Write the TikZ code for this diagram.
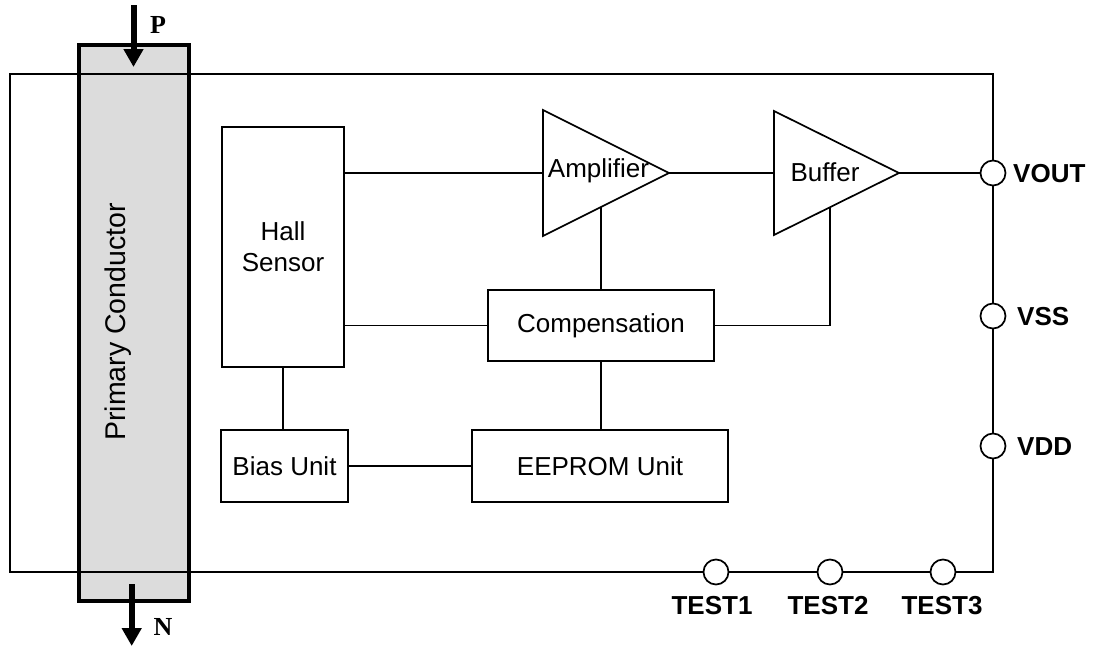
\documentclass[tikz,border=0pt]{standalone}
\usepackage{fontspec}
\setmainfont{Liberation Sans}
\newfontfamily\serifb{Liberation Serif}
\usetikzlibrary{arrows.meta}
\definecolor{condgray}{HTML}{DCDCDC}
\begin{document}
\begin{tikzpicture}[x=1pt,y=-1pt,
  wire/.style={line width=1.7pt},
  blockbox/.style={draw,line width=1.7pt,rectangle,inner sep=0pt,align=center,font=\fontsize{26}{31}\selectfont},
  pin/.style={draw,line width=1.7pt,circle,fill=white,minimum size=25pt,inner sep=0pt},
  pinlabel/.style={font=\fontsize{26}{31}\selectfont\bfseries,inner sep=0pt},
  bigarrow/.style={line width=6pt,-{Triangle[width=19pt,length=18pt]}},
  lbl/.style={font=\fontsize{26}{31}\selectfont,inner sep=0pt}]
\useasboundingbox (0,0) rectangle (1093,648);

% primary conductor
\fill[condgray] (79,45) rectangle (189,601);
\node[rotate=90,anchor=base,lbl,font=\fontsize{28.5}{33}\selectfont] (pclabel) at (125,322) {Primary Conductor};

% chip outline
\coordinate (chipTL) at (10,74);
\coordinate (chipBR) at (993,572);
\draw[wire] (chipTL) rectangle (chipBR);

\draw[line width=3.8pt] (79,45) rectangle (189,601);

% current arrows
\coordinate (pstart) at (133.5,5);
\coordinate (pend) at (133.5,67);
\draw[bigarrow] (pstart) -- (pend);
\node[font=\fontsize{26}{31}\selectfont\serifb\bfseries,inner sep=0pt] (plabel) at (158,25) {P};
\coordinate (nstart) at (131.7,584);
\coordinate (nend) at (131.7,646);
\draw[bigarrow] (nstart) -- (nend);
\node[font=\fontsize{26}{31}\selectfont\serifb\bfseries,inner sep=0pt] (nlabel) at (163,627) {N};

% blocks
\node[blockbox,minimum width=122pt,minimum height=240pt] (hall) at (283,247) {Hall\\Sensor};
\node[blockbox,minimum width=226pt,minimum height=71pt] (comp) at (601,325.5) {Compensation};
\node[blockbox,minimum width=127pt,minimum height=72pt] (bias) at (284.5,466) {Bias Unit};
\node[blockbox,minimum width=256pt,minimum height=72pt] (eeprom) at (600,466) {EEPROM Unit};

% amplifier triangle
\coordinate (ampTop) at (543,110);
\coordinate (ampL) at (543,173);
\coordinate (ampBot) at (543,236);
\coordinate (ampT) at (669,173);
\coordinate (ampB) at (601,207);
\draw[wire,line join=miter] (ampTop) -- (ampT) -- (ampBot) -- cycle;
\node[lbl] (amptext) at (598.5,171) {Amplifier};

% buffer triangle
\coordinate (bufTop) at (774,111);
\coordinate (bufL) at (774,173);
\coordinate (bufBot) at (774,235);
\coordinate (bufT) at (899,173);
\coordinate (bufB) at (830,208);
\draw[wire,line join=miter] (bufTop) -- (bufT) -- (bufBot) -- cycle;
\node[lbl] (buftext) at (825,172) {Buffer};

% connectors
\draw[wire] (hall.east |- ampL) -- (ampL);
\draw[wire] (ampT) -- (bufL);
\draw[wire] (ampB) -- (ampB |- comp.north);
\draw[wire] (bufB) |- (comp.east);
\draw[wire] (hall.east |- comp.west) -- (comp.west);
\draw[wire] (hall.south) -- (hall.south |- bias.north);
\draw[wire] (comp.south) -- (comp.south |- eeprom.north);
\draw[wire] (bias.east) -- (eeprom.west);

% pins
\node[pin] (vout) at (993,173) {};
\node[pin] (vss) at (993,316) {};
\node[pin] (vdd) at (993,446) {};
\node[pin] (test1) at (716,572) {};
\node[pin] (test2) at (830,572) {};
\node[pin] (test3) at (943,572) {};
\draw[wire] (bufT) -- (vout.west);

\node[pinlabel,anchor=west] (voutl) at (1013,174) {VOUT};
\node[pinlabel,anchor=west] (vssl) at (1017,317) {VSS};
\node[pinlabel,anchor=west] (vddl) at (1017,447) {VDD};
\node[pinlabel] (test1l) at (712,606) {TEST1};
\node[pinlabel] (test2l) at (828,606) {TEST2};
\node[pinlabel] (test3l) at (942,606) {TEST3};
\end{tikzpicture}
\end{document}
